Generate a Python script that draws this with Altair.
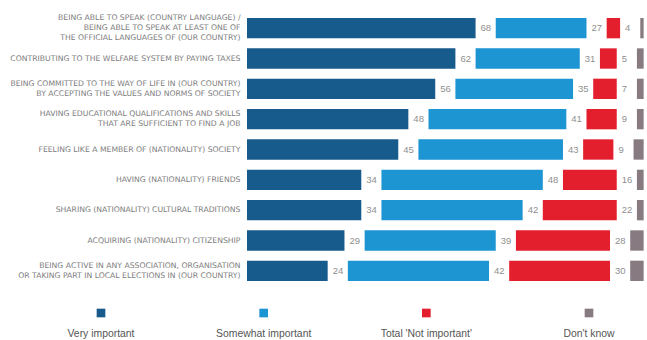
import altair as alt
import pandas as pd

categories = [
    "BEING ABLE TO SPEAK (COUNTRY LANGUAGE) /|BEING ABLE TO SPEAK AT LEAST ONE OF|THE OFFICIAL LANGUAGES OF (OUR COUNTRY)",
    "CONTRIBUTING TO THE WELFARE SYSTEM BY PAYING TAXES",
    "BEING COMMITTED TO THE WAY OF LIFE IN (OUR COUNTRY)|BY ACCEPTING THE VALUES AND NORMS OF SOCIETY",
    "HAVING EDUCATIONAL QUALIFICATIONS AND SKILLS|THAT ARE SUFFICIENT TO FIND A JOB",
    "FEELING LIKE A MEMBER OF (NATIONALITY) SOCIETY",
    "HAVING (NATIONALITY) FRIENDS",
    "SHARING (NATIONALITY) CULTURAL TRADITIONS",
    "ACQUIRING (NATIONALITY) CITIZENSHIP",
    "BEING ACTIVE IN ANY ASSOCIATION, ORGANISATION|OR TAKING PART IN LOCAL ELECTIONS IN (OUR COUNTRY)",
]
series = ["Very important", "Somewhat important", "Total 'Not important'", "Don't know"]
colors = ["#175a8c", "#1d95d3", "#e41f2d", "#877a80"]

very_important = [68, 62, 56, 48, 45, 34, 34, 29, 24]
somewhat_important = [27, 31, 35, 41, 43, 48, 42, 39, 42]
not_important = [4, 5, 7, 9, 9, 16, 22, 28, 30]
dont_know = [1, 2, 2, 2, 3, 2, 2, 4, 4]

GAP = 6  # gap between segments, in percentage units

rows = []
for ci, cat in enumerate(categories):
    for si, vals in enumerate([very_important, somewhat_important, not_important, dont_know]):
        rows.append({"category": cat, "series": series[si], "order": si, "value": vals[ci]})
df = pd.DataFrame(rows)

legend_df = pd.DataFrame({"series": series, "idx": list(range(len(series)))})

y_enc = alt.Y(
    "category:N",
    sort=categories,
    title=None,
    scale=alt.Scale(paddingInner=0.33, paddingOuter=0.165),
    axis=alt.Axis(
        labelExpr="split(datum.label, '|')",
        labelFontSize=7.7,
        labelColor="#7d7d7d",
        labelFont="DejaVu Sans",
        labelLineHeight=10,
        labelPadding=7,
        labelOffset={
            "condition": [
                {"test": "length(split(datum.label, '|')) == 3", "value": -10},
                {"test": "length(split(datum.label, '|')) == 2", "value": -5},
            ],
            "value": 0,
        },
        ticks=False,
        domain=False,
        grid=False,
        labelLimit=300,
    ),
)
x_scale = alt.Scale(domain=[0, 119], nice=False, zero=True)
color_enc = alt.Color("series:N", scale=alt.Scale(domain=series, range=colors), legend=None)

base = alt.Chart(df).transform_window(
    cum="sum(value)", groupby=["category"], sort=[alt.SortField("order")], frame=[None, 0]
).transform_calculate(
    start="datum.cum - datum.value + datum.order * %d" % GAP,
).transform_calculate(
    end="datum.start + datum.value"
)

bars = base.mark_bar(clip=True).encode(
    x=alt.X("start:Q", scale=x_scale, axis=None),
    x2="end:Q",
    y=y_enc,
    color=color_enc,
)
labels = base.mark_text(align="left", baseline="middle", dx=5, fontSize=9.5,
                        color="#8f8f8f", font="Liberation Sans", clip=True).encode(
    x=alt.X("end:Q", scale=x_scale, axis=None),
    y=alt.Y("category:N", sort=categories),
    text="value:Q",
)
main = alt.layer(bars, labels)

leg_x = alt.X("idx:Q", scale=alt.Scale(domain=[0, 3], range=[-146, 342], nice=False, zero=False), axis=None)
leg_sq = alt.Chart(legend_df).mark_square(size=75, opacity=1).encode(
    x=leg_x,
    y=alt.value(300),
    color=alt.Color("series:N", scale=alt.Scale(domain=series, range=colors), legend=None),
)
leg_txt = alt.Chart(legend_df).mark_text(align="center", baseline="middle", fontSize=10.4,
                                          color="#555555", font="Liberation Sans").encode(
    x=leg_x,
    y=alt.value(321),
    text="series:N",
)
legend = alt.layer(leg_sq, leg_txt)

chart = alt.layer(main, legend).resolve_scale(x="independent").properties(
    width=400, height=273,
    autosize=alt.AutoSizeParams(type="none"),
    padding={"left": 247, "top": 13, "right": 0, "bottom": 54},
    background="white",
).configure_view(stroke=None)

chart.save("out.html", embed_options={"renderer": "svg", "actions": False})
